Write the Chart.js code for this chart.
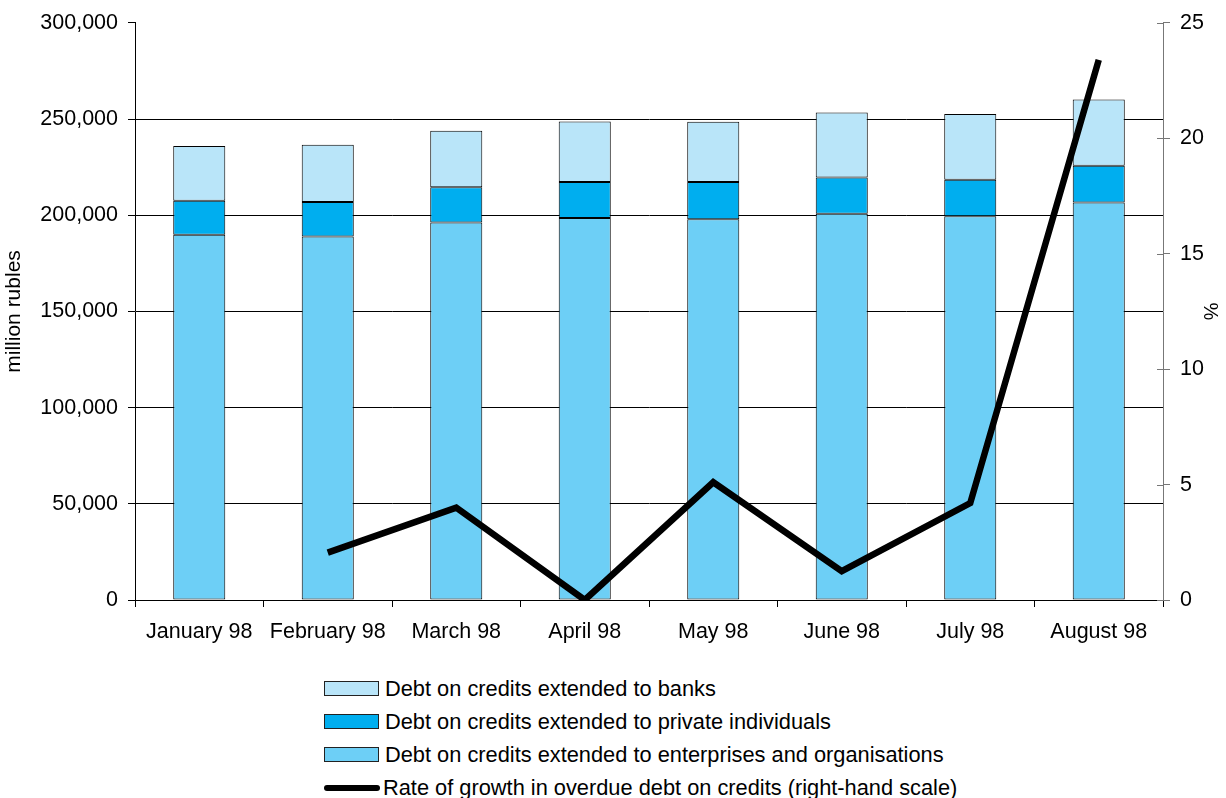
<!DOCTYPE html>
<html>
<head>
<meta charset="utf-8">
<script src="https://cdn.jsdelivr.net/npm/chart.js@4.4.1/dist/chart.umd.min.js"></script>
<style>
    body { margin: 0; background: #fff; font-family: "Liberation Sans", Arial, sans-serif; }
    #wrap { position: absolute; left: 0; top: 0; width: 1226px; height: 660px; }
    #legenda { position: absolute; left: 324px; top: 672px; }
    .polozka { height: 33px; display: flex; align-items: center; font-size: 21.8px; color: #000; }
    .box { width: 53px; height: 13px; border: 1px solid #222; margin-right: 6px; }
    .cara { width: 56px; height: 6px; border-radius: 3px; background: #000; margin-right: 3px; }
</style>
</head>
<body>
<div id="wrap"><canvas id="graf"></canvas></div>
<div id="legenda"></div>

<script>
const mesice = ['January 98', 'February 98', 'March 98', 'April 98', 'May 98', 'June 98', 'July 98', 'August 98'];

// million rubles
const podniky = [189900, 188900, 196200, 198600, 197900, 200800, 199500, 206600];
const jednotlivci = [17700, 18000, 18400, 18700, 19400, 18800, 18900, 19100];
const banky = [28400, 29800, 29300, 31400, 31300, 33800, 34200, 34500];

// %, right-hand scale (no value for January)
const rustDluhu = [null, 2.05, 4.0, 0, 5.1, 1.25, 4.2, 23.4];

const leveTicky = [0, 50000, 100000, 150000, 200000, 250000, 300000];
const praveTicky = [0, 5, 10, 15, 20, 25];

const nazvy = {
    banky: 'Debt on credits extended to banks',
    jednotlivci: 'Debt on credits extended to private individuals',
    podniky: 'Debt on credits extended to enterprises and organisations',
    rust: 'Rate of growth in overdue debt on credits (right-hand scale)'
};

const barvy = {
    banky: '#B9E5F9',
    jednotlivci: '#00AEEF',
    podniky: '#6DCFF6'
};

const font = { family: '"Liberation Sans", Arial, sans-serif', size: 21.5 };

document.addEventListener('DOMContentLoaded', () => {
    vykresliGraf();
    vykresliLegendu();
});

function sloupec(label, data, barva) {
    return {
        type: 'bar',
        label: label,
        data: data,
        backgroundColor: barva,
        borderColor: '#000',
        borderWidth: 1,
        borderSkipped: false,
        barPercentage: 0.405,
        categoryPercentage: 1,
        yAxisID: 'y',
        order: 1
    };
}

// right axis ticks cross the axis line on both sides
const krizkyVpravo = {
    id: 'krizkyVpravo',
    afterDraw(chart) {
        const s = chart.scales.y1;
        const ctx = chart.ctx;
        ctx.save();
        ctx.strokeStyle = '#777';
        ctx.lineWidth = 1;
        s.ticks.forEach(t => {
            const y = Math.round(s.getPixelForValue(t.value)) + 0.5;
            ctx.beginPath();
            ctx.moveTo(s.left - 6, y);
            ctx.lineTo(s.left, y);
            ctx.stroke();
        });
        ctx.restore();
    }
};

function vykresliGraf() {
    const canvas = document.getElementById('graf');
    new Chart(canvas, {
        data: {
            labels: mesice,
            datasets: [
                sloupec(nazvy.podniky, podniky, barvy.podniky),
                sloupec(nazvy.jednotlivci, jednotlivci, barvy.jednotlivci),
                sloupec(nazvy.banky, banky, barvy.banky),
                {
                    type: 'line',
                    label: nazvy.rust,
                    data: rustDluhu,
                    borderColor: '#000',
                    borderWidth: 6.5,
                    pointRadius: 0,
                    tension: 0,
                    spanGaps: false,
                    yAxisID: 'y1',
                    order: 0
                }
            ]
        },
        plugins: [krizkyVpravo],
        options: {
            responsive: true,
            maintainAspectRatio: false,
            animation: false,
            layout: { padding: { top: 22, left: 0, right: 0, bottom: 0 } },
            plugins: {
                legend: { display: false },
                tooltip: { enabled: false }
            },
            scales: {
                x: {
                    stacked: true,
                    offset: true,
                    grid: { offset: true, drawOnChartArea: false, color: '#000', tickLength: 7 },
                    border: { color: '#000', width: 1 },
                    ticks: { color: '#000', font: font, padding: 12, maxRotation: 0 },
                    afterFit: s => { s.height = 60; }
                },
                y: {
                    stacked: true,
                    position: 'left',
                    min: 0,
                    max: 300000,
                    afterBuildTicks: s => { s.ticks = leveTicky.map(v => ({ value: v })); },
                    ticks: {
                        color: '#000',
                        font: font,
                        padding: 10,
                        callback: v => v.toLocaleString('en-US')
                    },
                    grid: {
                        color: ctx => ctx.tick && ctx.tick.value === 300000 ? 'rgba(0,0,0,0)' : '#000',
                        tickColor: '#000',
                        tickLength: 7,
                        lineWidth: 1
                    },
                    border: { color: '#000', width: 1 },
                    title: { display: true, text: 'million rubles', color: '#000', font: { family: font.family, size: 21 }, padding: { top: 2, bottom: 4 } },
                    afterFit: s => { s.width = 135; }
                },
                y1: {
                    position: 'right',
                    min: 0,
                    max: 25,
                    afterBuildTicks: s => { s.ticks = praveTicky.map(v => ({ value: v })); },
                    ticks: { color: '#000', font: font, padding: 10 },
                    grid: { drawOnChartArea: false, color: '#777', tickLength: 7 },
                    border: { color: '#777', width: 1 },
                    title: { display: true, text: '%', color: '#000', font: { family: font.family, size: 20 } },
                    afterFit: s => { s.width = 63; }
                }
            }
        }
    });
}

function vykresliLegendu() {
    const legenda = document.getElementById('legenda');
    const polozky = [
        { text: nazvy.banky, barva: barvy.banky },
        { text: nazvy.jednotlivci, barva: barvy.jednotlivci },
        { text: nazvy.podniky, barva: barvy.podniky },
        { text: nazvy.rust, cara: true }
    ];
    polozky.forEach(p => {
        const radek = document.createElement('div');
        radek.className = 'polozka';
        const znacka = document.createElement('span');
        if (p.cara) {
            znacka.className = 'cara';
        } else {
            znacka.className = 'box';
            znacka.style.background = p.barva;
        }
        const text = document.createElement('span');
        text.textContent = p.text;
        radek.appendChild(znacka);
        radek.appendChild(text);
        legenda.appendChild(radek);
    });
}
</script>
</body>
</html>
